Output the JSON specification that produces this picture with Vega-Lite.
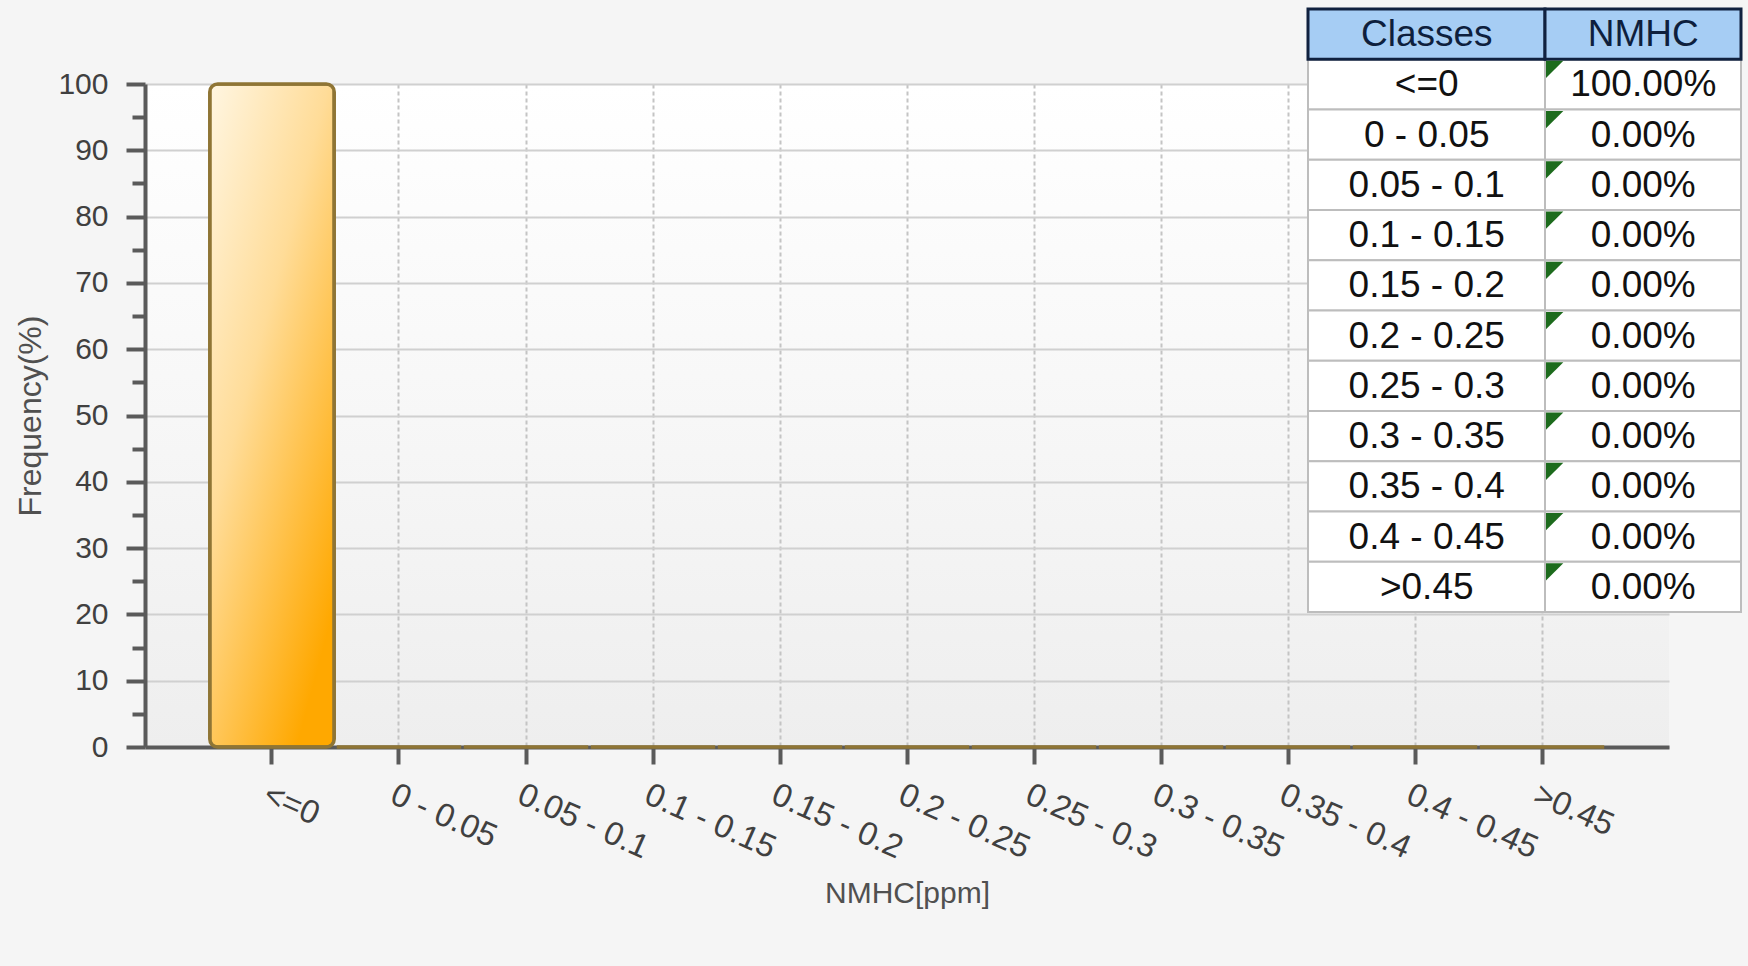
{
  "$schema": "https://vega.github.io/schema/vega-lite/v6.json",
  "width": 1524,
  "height": 663,
  "autosize": {"type": "none"},
  "padding": {"left": 145, "top": 84, "right": 79, "bottom": 219},
  "background": "#f5f5f5",
  "config": {
    "font": "Liberation Sans",
    "view": {
      "stroke": null,
      "fill": {"gradient": "linear", "x1": 0, "y1": 0, "x2": 0, "y2": 1,
        "stops": [{"offset": 0, "color": "#ffffff"}, {"offset": 0.5, "color": "#f7f7f7"}, {"offset": 1, "color": "#eeeeee"}]}
    }
  },
  "datasets": {
    "hist": [
      {"class": "<=0", "freq": 100, "share": "100.00%"},
      {"class": "0 - 0.05", "freq": 0, "share": "0.00%"},
      {"class": "0.05 - 0.1", "freq": 0, "share": "0.00%"},
      {"class": "0.1 - 0.15", "freq": 0, "share": "0.00%"},
      {"class": "0.15 - 0.2", "freq": 0, "share": "0.00%"},
      {"class": "0.2 - 0.25", "freq": 0, "share": "0.00%"},
      {"class": "0.25 - 0.3", "freq": 0, "share": "0.00%"},
      {"class": "0.3 - 0.35", "freq": 0, "share": "0.00%"},
      {"class": "0.35 - 0.4", "freq": 0, "share": "0.00%"},
      {"class": "0.4 - 0.45", "freq": 0, "share": "0.00%"},
      {"class": ">0.45", "freq": 0, "share": "0.00%"}
    ],
    "tableHeader": [
      {"row": "header", "col": "class", "text": "Classes"},
      {"row": "header", "col": "share", "text": "NMHC"}
    ]
  },
  "resolve": {
    "scale": {"x": "independent", "y": "independent"},
    "axis": {"x": "independent", "y": "independent"}
  },
  "layer": [
    {
      "data": {"name": "hist"},
      "mark": {
        "type": "bar",
        "cornerRadius": 8,
        "stroke": "#8f7535",
        "strokeWidth": 3.5,
        "fill": {"gradient": "linear", "x1": 0, "y1": 0, "x2": 0.7, "y2": 1,
          "stops": [{"offset": 0, "color": "#fff6e2"}, {"offset": 0.45, "color": "#ffdc98"}, {"offset": 1, "color": "#ffa800"}]}
      },
      "encoding": {
        "x": {
          "field": "class", "type": "nominal", "sort": null,
          "scale": {
            "domain": ["<=0", "0 - 0.05", "0.05 - 0.1", "0.1 - 0.15", "0.15 - 0.2", "0.2 - 0.25", "0.25 - 0.3", "0.3 - 0.35", "0.35 - 0.4", "0.4 - 0.45", ">0.45"],
            "paddingInner": 0.02, "paddingOuter": 0.51
          },
          "axis": {
            "title": "NMHC[ppm]", "titleFontSize": 30, "titleFontWeight": "normal", "titleColor": "#505050", "titlePadding": 14,
            "labelAngle": 24, "labelAlign": "left", "labelBaseline": "top", "labelFontSize": 33, "labelColor": "#404040",
            "labelPadding": 14, "labelOverlap": false, "labelBound": false, "labelFlush": false, "labelLimit": 400,
            "tickSize": 17, "tickWidth": 4, "tickColor": "#5a5a5a",
            "domainColor": "#5a5a5a", "domainWidth": 4,
            "grid": true, "gridColor": "#c4c4c4", "gridDash": [4, 3], "gridWidth": 2
          }
        },
        "y": {
          "field": "freq", "type": "quantitative",
          "scale": {"domain": [0, 100], "nice": false},
          "axis": {
            "title": "Frequency(%)", "titleFontSize": 32, "titleFontWeight": "normal", "titleColor": "#505050", "titlePadding": 10,
            "values": [0, 10, 20, 30, 40, 50, 60, 70, 80, 90, 100],
            "labelFontSize": 30, "labelColor": "#404040", "labelPadding": 18,
            "tickSize": 19, "tickWidth": 4, "tickColor": "#5a5a5a",
            "domainColor": "#5a5a5a", "domainWidth": 4,
            "grid": true, "gridColor": "#d0d0d0", "gridWidth": 2
          }
        }
      }
    },
    {
      "data": {"name": "hist"},
      "mark": {"type": "point", "opacity": 0},
      "encoding": {
        "y": {
          "field": "freq", "type": "quantitative",
          "scale": {"domain": [0, 100], "nice": false},
          "axis": {
            "orient": "left", "values": [5, 15, 25, 35, 45, 55, 65, 75, 85, 95],
            "tickSize": 13, "tickWidth": 4, "tickColor": "#5a5a5a",
            "labels": false, "domain": false, "grid": false, "title": null
          }
        }
      }
    },
    {
      "layer": [
        {
          "data": {"name": "hist"},
          "transform": [{"fold": ["class", "share"], "as": ["col", "text"]}, {"filter": {"field": "col", "equal": "class"}}],
          "mark": {"type": "rect", "fill": "#ffffff", "stroke": "#bdbdbd", "strokeWidth": 2, "width": 237, "xOffset": 10.25},
          "encoding": {
            "x": {"field": "col", "type": "nominal", "scale": {"domain": ["class", "share"], "range": [1163, 1596], "paddingInner": 0, "paddingOuter": 0}, "axis": null},
            "y": {"field": "class", "type": "nominal", "scale": {"domain": ["header", "<=0", "0 - 0.05", "0.05 - 0.1", "0.1 - 0.15", "0.15 - 0.2", "0.2 - 0.25", "0.25 - 0.3", "0.3 - 0.35", "0.35 - 0.4", "0.4 - 0.45", ">0.45"], "range": [-75, 528], "paddingInner": 0, "paddingOuter": 0}, "axis": null}
          }
        },
        {
          "data": {"name": "hist"},
          "transform": [{"fold": ["class", "share"], "as": ["col", "text"]}, {"filter": {"field": "col", "equal": "share"}}],
          "mark": {"type": "rect", "fill": "#ffffff", "stroke": "#bdbdbd", "strokeWidth": 2, "width": 196, "xOffset": 10.25},
          "encoding": {
            "x": {"field": "col", "type": "nominal", "axis": null},
            "y": {"field": "class", "type": "nominal", "axis": null}
          }
        },
        {
          "data": {"name": "tableHeader"},
          "transform": [{"filter": {"field": "col", "equal": "class"}}],
          "mark": {"type": "rect", "fill": "#a6cdf4", "stroke": "#10213f", "strokeWidth": 3, "width": 237, "xOffset": 10.25},
          "encoding": {
            "x": {"field": "col", "type": "nominal", "axis": null},
            "y": {"field": "row", "type": "nominal", "axis": null}
          }
        },
        {
          "data": {"name": "tableHeader"},
          "transform": [{"filter": {"field": "col", "equal": "share"}}],
          "mark": {"type": "rect", "fill": "#a6cdf4", "stroke": "#10213f", "strokeWidth": 3, "width": 196, "xOffset": 10.25},
          "encoding": {
            "x": {"field": "col", "type": "nominal", "axis": null},
            "y": {"field": "row", "type": "nominal", "axis": null}
          }
        },
        {
          "data": {"name": "hist"},
          "transform": [{"fold": ["class", "share"], "as": ["col", "text"]}],
          "mark": {"type": "text", "fontSize": 37, "color": "#111111", "align": "center", "baseline": "middle", "dx": 10.5, "dy": 1},
          "encoding": {
            "x": {"field": "col", "type": "nominal", "axis": null},
            "y": {"field": "class", "type": "nominal", "axis": null},
            "text": {"field": "text"}
          }
        },
        {
          "data": {"name": "tableHeader"},
          "mark": {"type": "text", "fontSize": 37, "color": "#0e1f3d", "align": "center", "baseline": "middle", "dx": 10.5, "dy": 1},
          "encoding": {
            "x": {"field": "col", "type": "nominal", "axis": null},
            "y": {"field": "row", "type": "nominal", "axis": null},
            "text": {"field": "text"}
          }
        },
        {
          "data": {"name": "hist"},
          "transform": [{"fold": ["class", "share"], "as": ["col", "text"]}, {"filter": {"field": "col", "equal": "share"}}],
          "mark": {"type": "point", "shape": "M0,0 L2,0 L0,2 Z", "filled": true, "color": "#1d6b1d", "opacity": 1, "size": 300, "xOffset": 21.5, "yOffset": 1.5},
          "encoding": {
            "x": {"field": "col", "type": "nominal", "bandPosition": 0, "axis": null},
            "y": {"field": "class", "type": "nominal", "bandPosition": 0, "axis": null}
          }
        }
      ]
    }
  ]
}
